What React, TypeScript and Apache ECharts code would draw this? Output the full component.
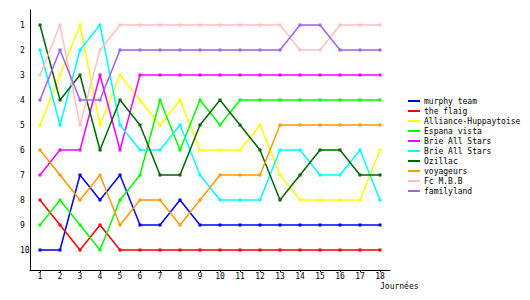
import React, { useEffect, useRef } from "react";
import * as echarts from "echarts";

const days = [1, 2, 3, 4, 5, 6, 7, 8, 9, 10, 11, 12, 13, 14, 15, 16, 17, 18];
const rankTicks = [1, 2, 3, 4, 5, 6, 7, 8, 9, 10];
const xAxisTitle = "Journées";

const teamNames = [
  "murphy team",
  "the flaig",
  "Alliance-Huppaytoise",
  "Espana vista",
  "Brie All Stars",
  "Brie All Stars ",
  "Ozillac",
  "voyageurs",
  "Fc M.B.B",
  "familyland",
];
const teamLabels = [
  "murphy team",
  "the flaig",
  "Alliance-Huppaytoise",
  "Espana vista",
  "Brie All Stars",
  "Brie All Stars",
  "Ozillac",
  "voyageurs",
  "Fc M.B.B",
  "familyland",
];
const teamColors = [
  "#0000ff",
  "#ff0000",
  "#ffff00",
  "#00ff00",
  "#ff00ff",
  "#00ffff",
  "#006600",
  "#ff9900",
  "#ffc0c0",
  "#a060f0",
];

const murphy = [10, 10, 7, 8, 7, 9, 9, 8, 9, 9, 9, 9, 9, 9, 9, 9, 9, 9];
const flaig = [8, 9, 10, 9, 10, 10, 10, 10, 10, 10, 10, 10, 10, 10, 10, 10, 10, 10];
const alliance = [5, 3, 1, 5, 3, 4, 5, 4, 6, 6, 6, 5, 7, 8, 8, 8, 8, 6];
const espana = [9, 8, 9, 10, 8, 7, 4, 6, 4, 5, 4, 4, 4, 4, 4, 4, 4, 4];
const brie1 = [7, 6, 6, 3, 6, 3, 3, 3, 3, 3, 3, 3, 3, 3, 3, 3, 3, 3];
const brie2 = [2, 5, 2, 1, 5, 6, 6, 5, 7, 8, 8, 8, 6, 6, 7, 7, 6, 8];
const ozillac = [1, 4, 3, 6, 4, 5, 7, 7, 5, 4, 5, 6, 8, 7, 6, 6, 7, 7];
const voyageurs = [6, 7, 8, 7, 9, 8, 8, 9, 8, 7, 7, 7, 5, 5, 5, 5, 5, 5];
const fcmbb = [3, 1, 5, 2, 1, 1, 1, 1, 1, 1, 1, 1, 1, 2, 2, 1, 1, 1];
const familyland = [4, 2, 4, 4, 2, 2, 2, 2, 2, 2, 2, 2, 2, 1, 1, 2, 2, 2];

const allRanks = [murphy, flaig, alliance, espana, brie1, brie2, ozillac, voyageurs, fcmbb, familyland];

const FONT = "DejaVu Sans Mono";

export default function App() {
  const ref = useRef<HTMLDivElement>(null);
  useEffect(() => {
    if (!ref.current) return;
    const chart = echarts.init(ref.current, null, { renderer: "svg" });
    const series = allRanks.map((vals, i) => ({
      name: teamNames[i],
      type: "line",
      data: vals.map((v, j) => [days[j], v]),
      symbol: "rect",
      symbolSize: 3,
      showSymbol: true,
      lineStyle: { width: 1.5, color: teamColors[i] },
      itemStyle: { color: teamColors[i] },
      color: teamColors[i],
      z: 2 + i,
    }));
    chart.setOption({
      animation: false,
      backgroundColor: "#ffffff",
      grid: { left: 30, top: 10, width: 360, height: 260, containLabel: false },
      graphic: [
        {
          type: "text",
          left: 380,
          top: 282,
          style: { text: xAxisTitle, fontFamily: FONT, fontSize: 8, fill: "#000" },
        },
      ],
      xAxis: {
        type: "value",
        min: 0.5,
        max: 18.5,
        splitLine: { show: false },
        axisLine: { lineStyle: { color: "#000", width: 1 } },
        axisTick: { show: true, customValues: days, length: 2, lineStyle: { color: "#000" } },
        axisLabel: {
          customValues: days,
          fontFamily: FONT,
          fontSize: 8,
          color: "#000",
          margin: 2,
        },
      },
      yAxis: {
        type: "value",
        inverse: true,
        min: 0.4,
        max: 10.8,
        splitLine: { show: false },
        axisLine: { show: true, lineStyle: { color: "#000", width: 1 } },
        axisTick: { show: false },
        axisLabel: {
          customValues: rankTicks,
          fontFamily: FONT,
          fontSize: 8,
          color: "#000",
          margin: 10,
          align: "left",
        },
      },
      legend: {
        orient: "vertical",
        left: 408,
        top: 96,
        padding: 0,
        itemWidth: 12,
        itemHeight: 2,
        itemGap: 0,
        icon: "rect",
        textStyle: { fontFamily: FONT, fontSize: 8, color: "#000", padding: [3, 0, 0, -1], lineHeight: 7 },
        formatter: (name: string) => teamLabels[teamNames.indexOf(name)],
        data: teamNames.map((n, i) => ({ name: n, itemStyle: { color: teamColors[i] } })),
      },
      series,
    });
    return () => chart.dispose();
  }, []);
  return (
    <div
      ref={ref}
      style={{ position: "fixed", left: 0, top: 0, width: 530, height: 300, background: "#fff" }}
    />
  );
}
